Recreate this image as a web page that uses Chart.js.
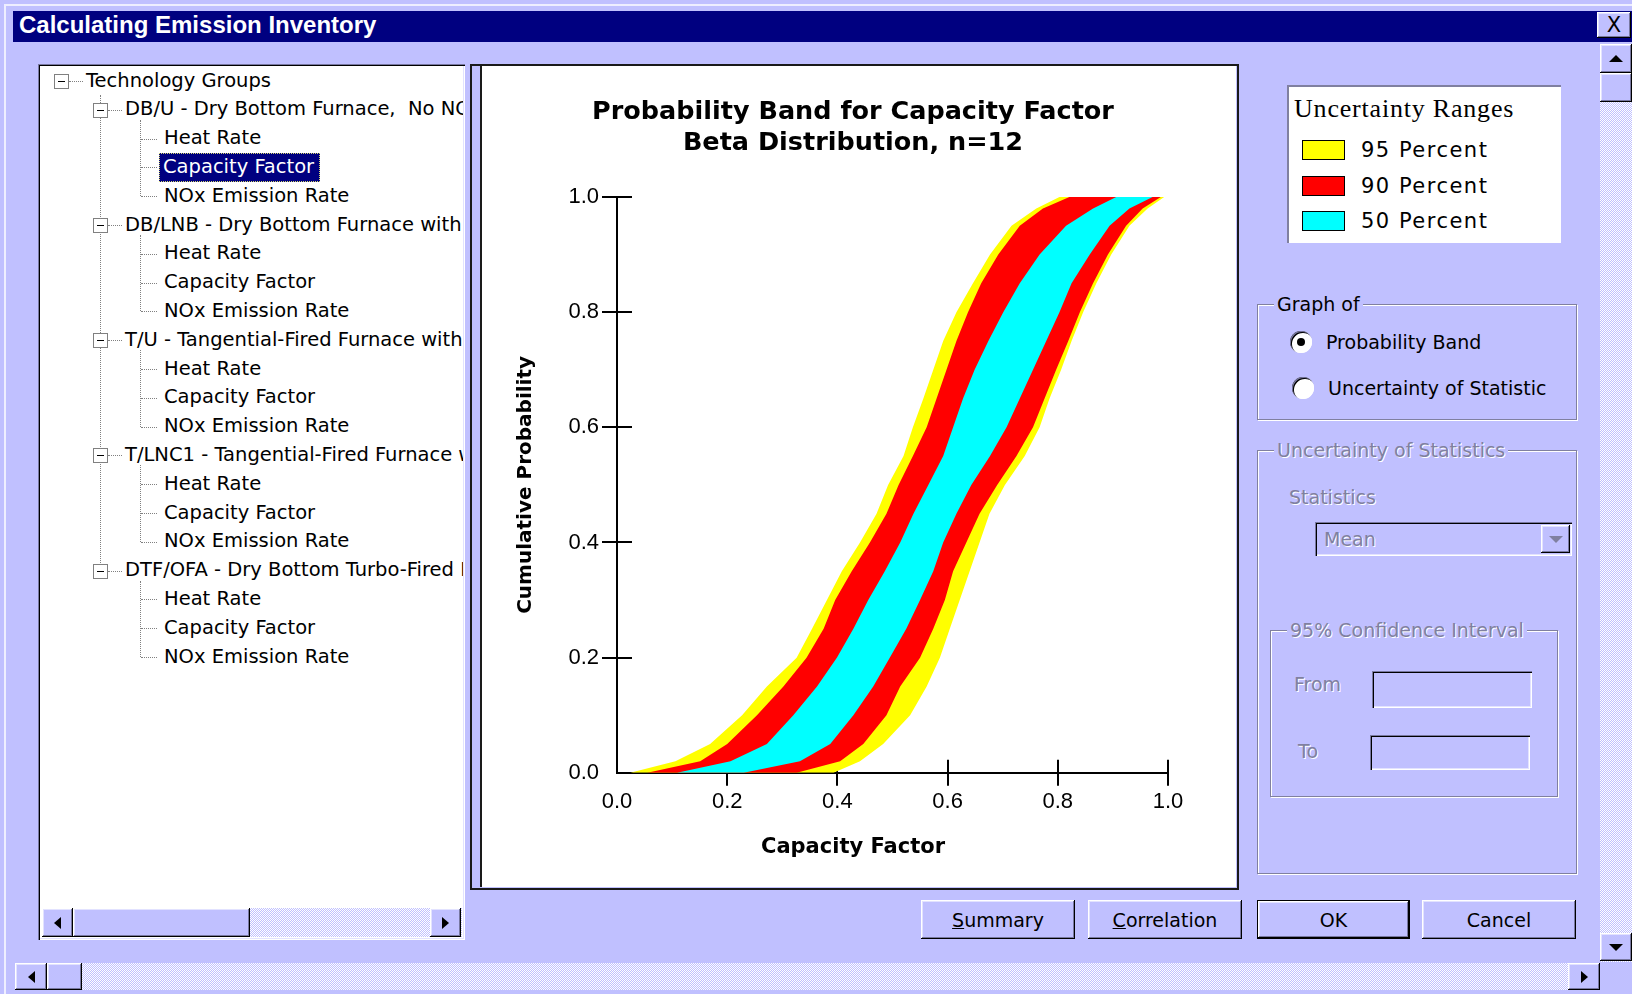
<!DOCTYPE html>
<html lang="en">
<head>
<meta charset="UTF-8">
<title>Calculating Emission Inventory</title>
<script src="https://cdn.jsdelivr.net/npm/chart.js"></script>
<style>
  * { box-sizing: border-box; }
  body {
    margin: 0; width: 1632px; height: 994px; overflow: hidden; position: relative;
    background: #c0c0ff; font-family: "DejaVu Sans", sans-serif; font-size: 19px; color: #000;
  }
  .abs { position: absolute; }
  .raised {
    background: #c0c0ff;
    box-shadow: inset -1px -1px #000, inset 1px 1px #fff, inset -2px -2px #7878a0, inset 2px 2px #e2e2ff;
  }
  .sunken {
    box-shadow: inset 1px 1px #7878a0, inset 2px 2px #000, inset -1px -1px #fff, inset -2px -2px #e2e2ff;
  }
  .dither {
    background-color: #fff;
    background-image: conic-gradient(#c0c0ff 25%, #fff 0 50%, #c0c0ff 0 75%, #fff 0);
    background-size: 2px 2px;
  }
  .center { display: flex; align-items: center; justify-content: center; }
  .tri { width: 0; height: 0; border: 6px solid transparent; }
  .tri.l { border-right: 7px solid #000; border-left-width: 0; }
  .tri.r { border-left: 7px solid #000; border-right-width: 0; }
  .tri.u { border-bottom: 7px solid #000; border-top-width: 0; border-left-width: 7px; border-right-width: 7px; }
  .tri.d { border-top: 7px solid #000; border-bottom-width: 0; border-left-width: 7px; border-right-width: 7px; }
  .label { position: absolute; white-space: pre; line-height: 24px; }
  .dis { color: #8080a0; text-shadow: 1px 1px 0 #fff; }
  .group { position: absolute; border: 1px solid #8080a0; box-shadow: inset 1px 1px 0 #fff, 1px 1px 0 #fff; }
  .group > .cap { position: absolute; top: -13px; padding: 0 3px; background: #c0c0ff; line-height: 24px; white-space: pre; }
  .radio {
    position: absolute; width: 22px; height: 22px; border-radius: 50%; background: #fff;
    box-shadow: inset 1px 1px #7878a0, inset 2px 2px #000, inset -1px -1px #fff;
  }
  .radio.on::after {
    content: ""; position: absolute; left: 7px; top: 7px; width: 8px; height: 8px; border-radius: 50%; background: #000;
  }
  .btn { position: absolute; font-size: 19px; }
  #tree { position: absolute; left: 40px; top: 66px; width: 423px; height: 841px; overflow: hidden; background: #fff; font-size: 19.5px; }
  #tree .row { position: absolute; white-space: pre; height: 28.8px; line-height: 28.8px; }
  #tree .vl { position: absolute; width: 0; border-left: 1px dotted #808080; }
  #tree .hl { position: absolute; height: 0; border-top: 1px dotted #808080; }
  #tree .box { position: absolute; width: 15px; height: 15px; border: 1px solid #808080; background: #fff; }
  #tree .box::after { content: ""; position: absolute; left: 3px; top: 6px; width: 7px; height: 1px; background: #000; }
  #legend .row { position: absolute; left: 0; height: 30px; width: 100%; }
  #legend .sw { position: absolute; left: 13px; top: 5px; width: 43px; height: 20px; border: 1.5px solid #000; }
  #legend .tx { position: absolute; left: 72px; top: 0; line-height: 30px; font-size: 21px; letter-spacing: 1.5px; }
</style>
</head>
<body>

<!-- window frame and caption -->
<div class="abs" style="left:4px;top:4px;width:1628px;height:990px;border-top:2px solid #eeeeff;border-left:2px solid #eeeeff;"></div>
<div class="abs" style="left:13px;top:11px;width:1619px;height:31px;background:#000080;">
  <span class="abs" style="left:6px;top:0;line-height:31px;color:#fff;font:bold 24px 'Liberation Sans', Arial, sans-serif;">Calculating Emission Inventory</span>
</div>
<div class="abs raised center" style="left:1597px;top:12px;width:34px;height:26px;font-size:21px;">X</div>

<!-- tree view -->
<div class="abs sunken" style="left:38px;top:64px;width:427px;height:876px;background:#fff;"></div>
<div id="tree"></div>
<div class="abs dither" style="left:42px;top:908px;width:420px;height:29px;"></div>
<div class="abs raised center" style="left:42px;top:908px;width:31px;height:29px;"><div class="tri l"></div></div>
<div class="abs raised" style="left:73px;top:908px;width:177px;height:29px;"></div>
<div class="abs raised center" style="left:430px;top:908px;width:31px;height:29px;"><div class="tri r"></div></div>

<!-- chart panel -->
<div class="abs" style="left:470px;top:64px;width:769px;height:826px;border:2px solid #1a1a1a;background:#c0c0ff;"></div>
<div class="abs" style="left:480px;top:66px;width:756px;height:821px;border-left:2px solid #1a1a1a;background:#fff;"></div>
<canvas id="band-chart" class="abs" style="left:482px;top:66px;" width="754" height="821"></canvas>

<!-- range key -->
<div id="legend" class="abs" style="left:1287px;top:85px;width:274px;height:158px;background:#fff;border-top:2px solid #8080a0;border-left:2px solid #8080a0;">
  <div class="abs" style="left:5px;top:7px;line-height:30px;font:26px 'Liberation Serif', 'Times New Roman', serif;letter-spacing:0.8px;white-space:pre;">Uncertainty Ranges</div>
</div>

<!-- graph selection -->
<div class="group" style="left:1257px;top:304px;width:320px;height:116px;">
  <div class="cap" style="left:16px;">Graph of</div>
</div>
<div class="radio on" style="left:1290px;top:331px;"></div>
<div class="label" style="left:1326px;top:330px;">Probability Band</div>
<div class="radio" style="left:1292px;top:377px;"></div>
<div class="label" style="left:1328px;top:376px;">Uncertainty of Statistic</div>

<!-- statistic options (disabled) -->
<div class="group" style="left:1257px;top:450px;width:320px;height:424px;">
  <div class="cap dis" style="left:16px;">Uncertainty of Statistics</div>
</div>
<div class="label dis" style="left:1289px;top:485px;">Statistics</div>
<div class="abs sunken" style="left:1315px;top:522px;width:257px;height:34px;"></div>
<div class="label dis" style="left:1324px;top:527px;">Mean</div>
<div class="abs raised center" style="left:1541px;top:525px;width:29px;height:28px;"><div class="tri d" style="border-top-color:#8080a0;"></div></div>

<div class="group" style="left:1270px;top:630px;width:288px;height:167px;">
  <div class="cap dis" style="left:16px;">95% Confidence Interval</div>
</div>
<div class="label dis" style="left:1294px;top:672px;">From</div>
<div class="abs sunken" style="left:1372px;top:671px;width:160px;height:37px;"></div>
<div class="label dis" style="left:1298px;top:739px;">To</div>
<div class="abs sunken" style="left:1370px;top:735px;width:160px;height:35px;"></div>

<!-- command buttons -->
<div class="btn raised center" style="left:921px;top:900px;width:154px;height:39px;"><span><u>S</u>ummary</span></div>
<div class="btn raised center" style="left:1088px;top:900px;width:154px;height:39px;"><span><u>C</u>orrelation</span></div>
<div class="btn center" style="left:1257px;top:900px;width:153px;height:39px;border:1px solid #000;">
  <div class="raised center" style="width:100%;height:100%;">OK</div>
</div>
<div class="btn raised center" style="left:1422px;top:900px;width:154px;height:39px;">Cancel</div>

<!-- window scroll bars -->
<div class="abs dither" style="left:1600px;top:44px;width:32px;height:918px;"></div>
<div class="abs raised center" style="left:1600px;top:44px;width:32px;height:29px;"><div class="tri u"></div></div>
<div class="abs raised" style="left:1600px;top:73px;width:32px;height:29px;"></div>
<div class="abs raised center" style="left:1600px;top:933px;width:32px;height:28px;"><div class="tri d"></div></div>
<div class="abs dither" style="left:15px;top:963px;width:1585px;height:27px;"></div>
<div class="abs raised center" style="left:15px;top:963px;width:32px;height:27px;"><div class="tri l"></div></div>
<div class="abs raised" style="left:47px;top:963px;width:35px;height:27px;"></div>
<div class="abs raised center" style="left:1568px;top:963px;width:32px;height:27px;"><div class="tri r"></div></div>

<script>
// cumulative probability levels at which the band edges are given
const cumProb = [0, 0.02, 0.05, 0.10, 0.15, 0.20, 0.25, 0.30, 0.35, 0.40, 0.45, 0.50,
                 0.55, 0.60, 0.65, 0.70, 0.75, 0.80, 0.85, 0.90, 0.95, 0.98, 1.00];

// capacity factor at the lower and upper edge of each probability band
const lower95 = [0.024, 0.106, 0.169, 0.227, 0.272, 0.326, 0.354, 0.381, 0.408, 0.441, 0.471, 0.492,
                 0.520, 0.537, 0.556, 0.574, 0.592, 0.616, 0.646, 0.677, 0.716, 0.761, 0.803];
const upper95 = [0.393, 0.441, 0.483, 0.532, 0.562, 0.586, 0.604, 0.622, 0.640, 0.658, 0.676, 0.704,
                 0.740, 0.767, 0.785, 0.806, 0.825, 0.846, 0.870, 0.897, 0.930, 0.963, 0.993];
const lower90 = [0.055, 0.151, 0.200, 0.254, 0.302, 0.344, 0.375, 0.396, 0.426, 0.459, 0.489, 0.511,
                 0.537, 0.562, 0.580, 0.598, 0.616, 0.637, 0.661, 0.692, 0.731, 0.773, 0.821];
const upper90 = [0.326, 0.405, 0.447, 0.489, 0.514, 0.550, 0.574, 0.595, 0.610, 0.634, 0.658, 0.690,
                 0.725, 0.755, 0.776, 0.797, 0.819, 0.840, 0.864, 0.891, 0.924, 0.954, 0.987];
const lower50 = [0.109, 0.206, 0.272, 0.320, 0.363, 0.399, 0.429, 0.456, 0.486, 0.514, 0.538, 0.565,
                 0.592, 0.610, 0.628, 0.649, 0.674, 0.701, 0.731, 0.767, 0.815, 0.864, 0.906];
const upper50 = [0.230, 0.332, 0.387, 0.429, 0.465, 0.495, 0.525, 0.550, 0.574, 0.592, 0.616, 0.643,
                 0.677, 0.707, 0.731, 0.755, 0.779, 0.803, 0.825, 0.858, 0.894, 0.930, 0.972];

const bandNames = ['95 Percent', '90 Percent', '50 Percent'];
const bandColors = ['#ffff00', '#ff0000', '#00ffff'];
const axisTicks = [0, 0.2, 0.4, 0.6, 0.8, 1.0];

const treeRows = [
  [0, 'Technology Groups'],
  [1, 'DB/U - Dry Bottom Furnace,  No NOx Control'],
  [2, 'Heat Rate'], [2, 'Capacity Factor'], [2, 'NOx Emission Rate'],
  [1, 'DB/LNB - Dry Bottom Furnace with Low NOx Burners'],
  [2, 'Heat Rate'], [2, 'Capacity Factor'], [2, 'NOx Emission Rate'],
  [1, 'T/U - Tangential-Fired Furnace with No NOx Control'],
  [2, 'Heat Rate'], [2, 'Capacity Factor'], [2, 'NOx Emission Rate'],
  [1, 'T/LNC1 - Tangential-Fired Furnace with LNC1'],
  [2, 'Heat Rate'], [2, 'Capacity Factor'], [2, 'NOx Emission Rate'],
  [1, 'DTF/OFA - Dry Bottom Turbo-Fired Furnace with OFA'],
  [2, 'Heat Rate'], [2, 'Capacity Factor'], [2, 'NOx Emission Rate']
];
const selectedRow = 3;

// ---- tree view ----
const tree = document.getElementById('tree');
const rowY = i => 15 + i * 28.8;
const textLeft = [46, 85, 124];
const boxX = [21, 60];

function add(cls, css, text) {
  const el = document.createElement('div');
  el.className = cls;
  Object.assign(el.style, css);
  if (text) el.textContent = text;
  tree.appendChild(el);
  return el;
}

const groupRows = treeRows.map((r, i) => r[0] === 1 ? i : -1).filter(i => i >= 0);
add('vl', {left: boxX[1] + 'px', top: (rowY(0) + 14) + 'px', height: (rowY(groupRows[groupRows.length - 1]) - rowY(0) - 14) + 'px'});
groupRows.forEach(g => {
  add('vl', {left: '100px', top: (rowY(g) + 10) + 'px', height: (rowY(g + 3) - rowY(g) - 10) + 'px'});
});

treeRows.forEach(([level, text], i) => {
  const cy = rowY(i);
  if (level < 2) {
    add('hl', {left: (boxX[level] + 8) + 'px', top: cy + 'px', width: (textLeft[level] - boxX[level] - 11) + 'px'});
    add('box', {left: (boxX[level] - 7) + 'px', top: (cy - 7) + 'px'});
  } else {
    add('hl', {left: '101px', top: cy + 'px', width: '16px'});
  }
  const row = add('row', {left: textLeft[level] + 'px', top: (cy - 14.4) + 'px'}, text);
  if (i === selectedRow) {
    Object.assign(row.style, {left: (textLeft[level] - 5) + 'px', padding: '0 6px 0 4px', background: '#000080',
      color: '#fff', outline: '1px dotted #d8d870', outlineOffset: '-1px'});
  }
});

// ---- range key ----
const legend = document.getElementById('legend');
bandNames.forEach((name, i) => {
  const row = document.createElement('div');
  row.className = 'row';
  row.style.top = (48 + i * 35.5) + 'px';
  row.innerHTML = '<div class="sw"></div><div class="tx"></div>';
  row.querySelector('.sw').style.background = bandColors[i];
  row.querySelector('.tx').textContent = name;
  legend.appendChild(row);
});

// ---- probability band chart ----
function bandOutline(lower, upper) {
  // up the lower edge, then back down the upper edge: one closed shape per band
  const pts = cumProb.map((p, i) => ({x: lower[i], y: p}));
  for (let i = cumProb.length - 1; i >= 0; i--) pts.push({x: upper[i], y: cumProb[i]});
  return pts;
}

const bands = [[lower95, upper95], [lower90, upper90], [lower50, upper50]];
const tickFont = {family: '"Liberation Sans", Arial, sans-serif', size: 22};
const tickColor = c => (c.tick && c.tick.value === 0) ? 'rgba(0,0,0,0)' : '#000';
const useAxisTicks = s => { s.ticks = axisTicks.map(v => ({value: v})); };
const tickLabels = {font: tickFont, color: '#000', padding: 3, maxRotation: 0, autoSkip: false,
                    callback: v => Number(v).toFixed(1)};

new Chart(document.getElementById('band-chart'), {
  type: 'line',
  data: {
    datasets: bands.map(([lo, hi], i) => ({
      label: bandNames[i],
      data: bandOutline(lo, hi),
      backgroundColor: bandColors[i],
      borderColor: bandColors[i],
      borderWidth: 0,
      pointRadius: 0,
      tension: 0,
      fill: 'shape',
      order: bands.length - i
    }))
  },
  options: {
    responsive: false,
    animation: false,
    events: [],
    layout: {padding: {left: 56, right: 68, top: 0, bottom: 19}},
    plugins: {
      legend: {display: false},
      tooltip: {enabled: false},
      title: {
        display: true,
        text: ['Probability Band for Capacity Factor', 'Beta Distribution, n=12'],
        color: '#000',
        font: {family: '"DejaVu Sans", sans-serif', size: 25.5, weight: 'bold', lineHeight: '31px'},
        padding: {top: 31, bottom: 38}
      },
      subtitle: {
        display: true,
        position: 'bottom',
        text: 'Capacity Factor',
        color: '#000',
        font: {family: '"DejaVu Sans", sans-serif', size: 21, weight: 'bold', lineHeight: 1.2},
        padding: {top: 12, bottom: 8}
      }
    },
    scales: {
      x: {
        type: 'linear', position: 'bottom', min: 0, max: 1, weight: 1,
        afterBuildTicks: useAxisTicks,
        ticks: tickLabels,
        grid: {drawOnChartArea: false, tickLength: 13, lineWidth: 2, color: tickColor},
        border: {color: '#000', width: 2},
        afterFit: s => { s.height = 50; }
      },
      xInner: {
        type: 'linear', position: 'bottom', min: 0, max: 1, weight: 0,
        afterBuildTicks: useAxisTicks,
        ticks: {display: false},
        grid: {drawOnChartArea: false, tickLength: -13, lineWidth: 2, color: tickColor},
        border: {display: false},
        afterFit: s => { s.height = 0; }
      },
      y: {
        type: 'linear', position: 'left', min: 0, max: 1, weight: 1,
        afterBuildTicks: useAxisTicks,
        ticks: tickLabels,
        grid: {drawOnChartArea: false, tickLength: 15, lineWidth: 2, color: tickColor},
        border: {color: '#000', width: 2},
        title: {
          display: true,
          text: 'Cumulative Probability',
          color: '#000',
          font: {family: '"DejaVu Sans", sans-serif', size: 20, weight: 'bold', lineHeight: 1.2},
          padding: {top: -24, bottom: 0}
        },
        afterFit: s => { s.width = 79; }
      },
      yInner: {
        type: 'linear', position: 'left', min: 0, max: 1, weight: 0,
        afterBuildTicks: useAxisTicks,
        ticks: {display: false},
        grid: {drawOnChartArea: false, tickLength: -15, lineWidth: 2, color: tickColor},
        border: {display: false},
        afterFit: s => { s.width = 0; }
      }
    }
  }
});
</script>
</body>
</html>
